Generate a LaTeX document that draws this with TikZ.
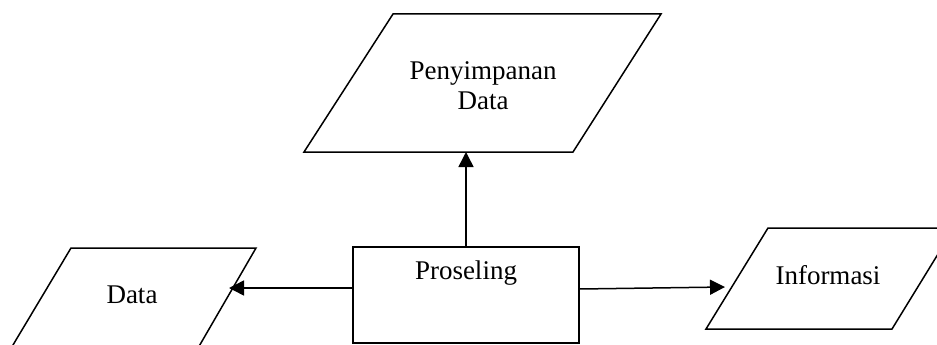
\documentclass[tikz,border=0pt]{standalone}
\usepackage{fontspec}
\setmainfont{Liberation Serif}
\usetikzlibrary{arrows.meta}
\begin{document}
\begin{tikzpicture}[x=1pt,y=-1pt,
  shapeline/.style={draw=black,line width=1.5pt,line join=miter},
  arr/.style={draw=black,line width=1.5pt,-{Triangle[length=15pt,width=15pt]}},
  lbl/.style={font=\fontsize{27}{30}\selectfont,inner sep=0pt,align=center},
  procbox/.style={draw=black,line width=1.5pt,minimum width=226pt,minimum height=96pt,inner sep=0pt}]
\useasboundingbox (0,0) rectangle (937,345);
\clip (0,0) rectangle (937,345);
% storage parallelogram
\draw[shapeline] (393,14) -- (661,14) -- (573,152) -- (304,152) -- cycle;
\node[lbl] (store) at (483,86) {Penyimpanan\\Data};
\coordinate (storeTip) at (466,152);
% data parallelogram
\draw[shapeline] (71,248) -- (256,248) -- (194,355) -- (7,355) -- cycle;
\node[lbl] (data) at (132,295) {Data};
\coordinate (dataTip) at (229,288);
% information parallelogram
\draw[shapeline] (768,228) -- (954,228) -- (892,329) -- (706,329) -- cycle;
\node[lbl] (info) at (828,275) {Informasi};
\coordinate (infoTip) at (725,287);
% process box
\node[procbox] (proc) at (466,295) {};
\node[lbl] (proclbl) at (466,273) {Proseling};
% connectors
\draw[arr] (proc.north) -- (storeTip);
\draw[arr] (proc.west |- dataTip) -- (dataTip);
\draw[arr] (proc.east |- 0,289) -- (infoTip);
\end{tikzpicture}
\end{document}
